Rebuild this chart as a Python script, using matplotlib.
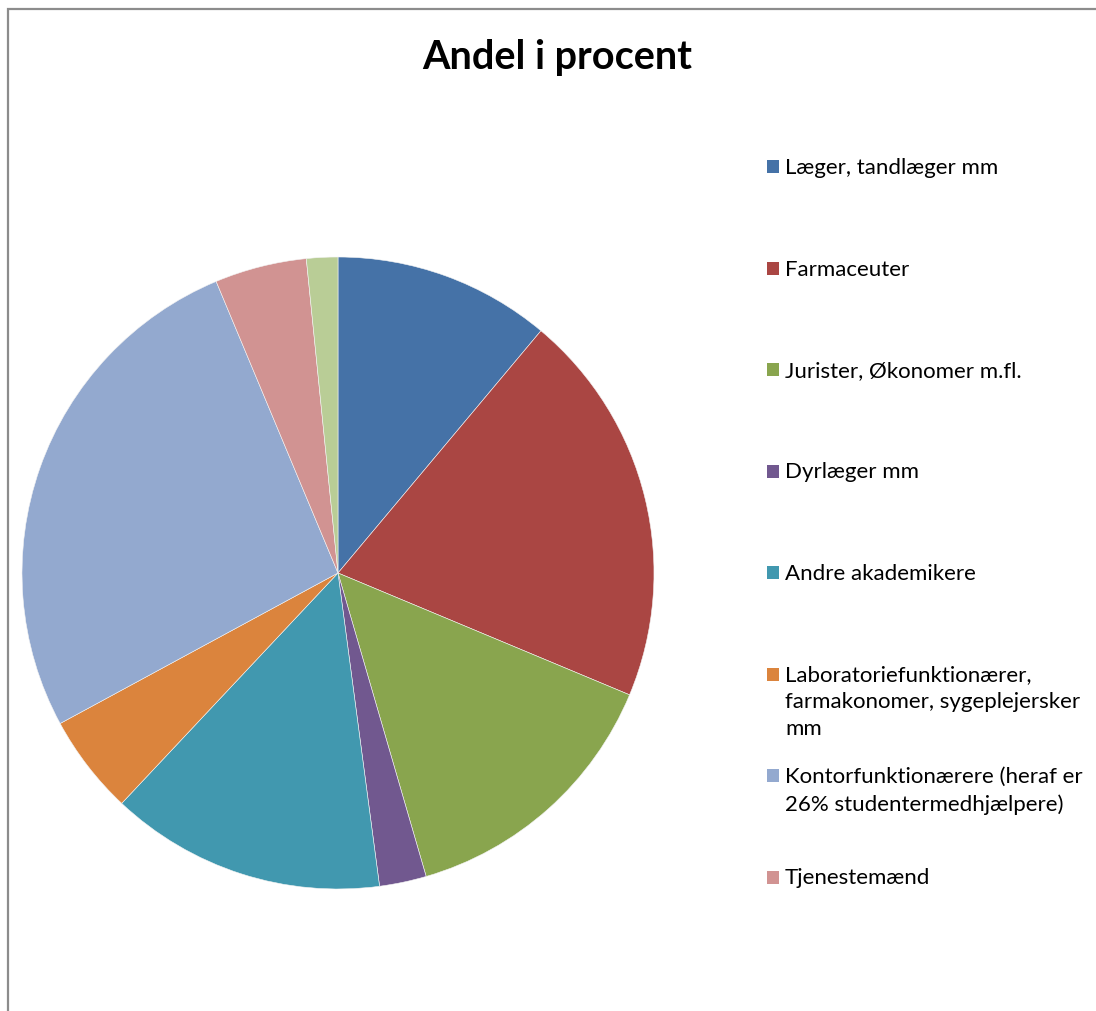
import matplotlib
matplotlib.use("Agg")
import matplotlib.pyplot as plt
from matplotlib.patches import Rectangle

plt.rcParams['font.family'] = ['Lato', 'DejaVu Sans']

# data (percent)
labels = ["Læger, tandlæger mm",
          "Farmaceuter",
          "Jurister, Økonomer m.fl.",
          "Dyrlæger mm",
          "Andre akademikere",
          "Laboratoriefunktionærer,\nfarmakonomer, sygeplejersker\nmm",
          "Kontorfunktionærere (heraf er\n26% studentermedhjælpere)",
          "Tjenestemænd",
          "Øvrige"]
values = [11.1, 20.2, 14.2, 2.4, 14.1, 5.1, 26.6, 4.7, 1.6]
colors = ["#4572A7", "#AA4643", "#89A54E", "#71588F", "#4198AF",
          "#DB843D", "#93A9CF", "#D19392", "#B9CD96"]

W, H = 1096, 1011
fig = plt.figure(figsize=(W / 100, H / 100), dpi=100)

# chart border (gray frame, runs off the right and bottom)
fig.patches.append(Rectangle((8 / W, -0.1), 1.2, 1 - 9 / H + 0.1,
                             transform=fig.transFigure, fill=False,
                             edgecolor="#8c8c8c", linewidth=1.6))

cx, cy, r = 338, 573, 316
ax = fig.add_axes([(cx - r) / W, 1 - (cy + r) / H, 2 * r / W, 2 * r / H])
ax.pie(values, colors=colors, startangle=90, counterclock=False,
       wedgeprops=dict(edgecolor="#f4f4f4", linewidth=0.4))
ax.set_xlim(-1, 1)
ax.set_ylim(-1, 1)
ax.set_aspect("equal")
ax.axis("off")

fig.text(557 / W, 1 - 57 / H, "Andel i procent", ha="center", va="center",
         fontsize=28.5, fontweight="bold")

# legend, first 8 entries fit in the frame
y0, step = 167, 101.5
for i in range(8):
    y = y0 + i * step
    fig.patches.append(Rectangle((767 / W, 1 - (y + 6) / H), 12 / W, 13 / H,
                                 transform=fig.transFigure,
                                 facecolor=colors[i], edgecolor="none"))
    fig.text(785 / W, 1 - (y - 9) / H, labels[i], ha="left", va="top",
             fontsize=16, linespacing=1.42)

fig.savefig("out.png", dpi=100)
